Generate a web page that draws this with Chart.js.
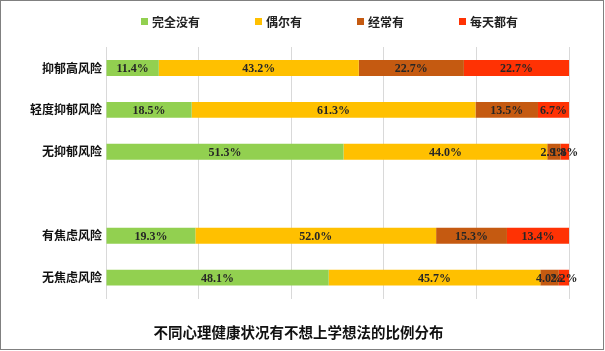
<!DOCTYPE html>
<html>
<head>
<meta charset="utf-8">
<script src="https://cdn.jsdelivr.net/npm/chart.js@4/dist/chart.umd.min.js"></script>
<style>
  html, body { margin: 0; padding: 0; background: #fff; }
  #wrap { width: 605px; height: 351px; position: relative; }
</style>
</head>
<body>
<div id="wrap"><canvas id="chart"></canvas></div>
<script>
// categories (empty string = gap row between the two groups)
const categories = ['抑郁高风险', '轻度抑郁风险', '无抑郁风险', '', '有焦虑风险', '无焦虑风险'];
const seriesNames = ['完全没有', '偶尔有', '经常有', '每天都有'];
const never = [11.4, 18.5, 51.3, null, 19.3, 48.1];
const sometimes = [43.2, 61.3, 44.0, null, 52.0, 45.7];
const often = [22.7, 13.5, 2.9, null, 15.3, 4.0];
const daily = [22.7, 6.7, 1.8, null, 13.4, 2.2];
const xTicks = [0, 20, 40, 60, 80, 100];
const colors = ['#92D050', '#FFC000', '#C55A11', '#FF3204'];
const chartTitle = '不同心理健康状况有不想上学想法的比例分布';

const cjk = '"Noto Sans CJK SC", "Noto Sans", sans-serif';

// white background + grey frame
const framePlugin = {
  id: 'frame',
  beforeDraw(chart) {
    const { ctx, width, height } = chart;
    ctx.save();
    ctx.fillStyle = '#fff';
    ctx.fillRect(0, 0, width, height);
    ctx.strokeStyle = '#808080';
    ctx.lineWidth = 1;
    ctx.strokeRect(0.5, 0.5, width - 2, height - 2);
    ctx.restore();
  }
};

// percentage labels in the middle of each segment
const valueLabels = {
  id: 'valueLabels',
  afterDatasetsDraw(chart) {
    const { ctx } = chart;
    ctx.save();
    ctx.font = 'bold 12px "Liberation Serif", "Times New Roman", serif';
    ctx.fillStyle = '#262626';
    ctx.textAlign = 'center';
    ctx.textBaseline = 'middle';
    chart.data.datasets.forEach((ds, i) => {
      chart.getDatasetMeta(i).data.forEach((bar, j) => {
        const v = ds.data[j];
        if (v == null) return;
        const x = (bar.x + bar.base) / 2;
        ctx.fillText(v.toFixed(1) + '%', x, bar.y + 1);
      });
    });
    ctx.restore();
  }
};

// legend row across the top
const topLegend = {
  id: 'topLegend',
  afterDraw(chart) {
    const { ctx, chartArea } = chart;
    ctx.save();
    ctx.font = 'bold 12px ' + cjk;
    ctx.textBaseline = 'middle';
    const box = 7, space = 4, gap = 55;
    const items = chart.data.datasets.map((ds) => ({
      label: ds.label, color: ds.backgroundColor, w: box + space + ctx.measureText(ds.label).width
    }));
    const total = items.reduce((s, it) => s + it.w, 0) + gap * (items.length - 1);
    let x = (chartArea.left + chartArea.right) / 2 - 8 - total / 2;
    const y = 22;
    items.forEach((it) => {
      ctx.fillStyle = it.color;
      ctx.fillRect(x, y - 4, box, box);
      ctx.fillStyle = '#222';
      ctx.fillText(it.label, x + box + space, y);
      x += it.w + gap;
    });
    ctx.restore();
  }
};

const seriesData = [never, sometimes, often, daily];

new Chart(document.getElementById('chart'), {
  type: 'bar',
  data: {
    labels: categories,
    datasets: seriesNames.map((name, i) => ({
      label: name,
      data: seriesData[i],
      backgroundColor: colors[i],
      borderWidth: 0,
      categoryPercentage: 1,
      barPercentage: 0.38
    }))
  },
  options: {
    indexAxis: 'y',
    responsive: true,
    maintainAspectRatio: false,
    animation: false,
    layout: { padding: { top: 47, right: 36, bottom: 10, left: 28 } },
    plugins: {
      legend: { display: false },
      tooltip: { enabled: false },
      title: {
        display: true,
        position: 'bottom',
        text: chartTitle,
        color: '#111',
        font: { family: cjk, size: 14.5, weight: 'bold' },
        padding: { top: 25, bottom: 0 }
      }
    },
    scales: {
      x: {
        stacked: true,
        min: 0,
        max: 100,
        afterBuildTicks: (scale) => { scale.ticks = xTicks.map((v) => ({ value: v })); },
        ticks: { display: false },
        grid: { color: '#d9d9d9', drawTicks: false },
        border: { display: false },
        afterFit: (scale) => { scale.height = 0; }
      },
      y: {
        stacked: true,
        grid: { display: false, drawTicks: false },
        border: { display: false },
        ticks: {
          color: '#111',
          padding: 4,
          font: { family: cjk, size: 12, weight: 'bold' }
        },
        afterFit: (scale) => { scale.width = 78; }
      }
    }
  },
  plugins: [framePlugin, valueLabels, topLegend]
});
</script>
</body>
</html>
